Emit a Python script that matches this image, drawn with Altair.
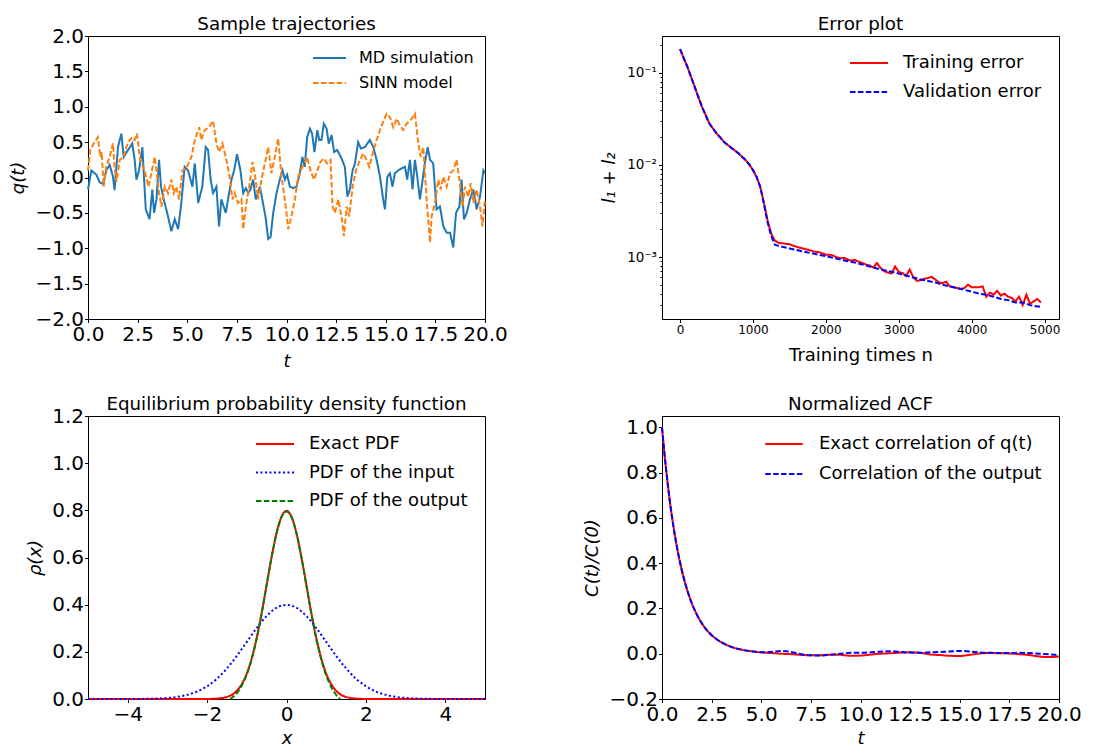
import altair as alt
import pandas as pd

FONT = "DejaVu Sans"

# ---------------- Sample trajectories ----------------
md_t = [0.0, 0.17, 0.42, 0.59, 0.76, 0.92, 1.09, 1.26, 1.34, 1.51, 1.68, 1.80, 2.02, 2.23, 2.35, 2.44,
        2.57, 2.74, 2.81, 2.91, 3.10, 3.24, 3.33, 3.45, 3.58, 3.68, 3.82, 4.03, 4.20, 4.37, 4.54, 4.70,
        4.87, 5.04, 5.26, 5.38, 5.55, 5.76, 5.93, 6.05, 6.18, 6.30, 6.47, 6.60, 6.72, 6.94, 7.11, 7.23,
        7.36, 7.51, 7.68, 7.82, 7.95, 8.07, 8.18, 8.32, 8.45, 8.66, 8.78, 8.94, 9.08, 9.20, 9.33, 9.50,
        9.66, 9.80, 9.92, 10.03, 10.17, 10.34, 10.50, 10.67, 10.80, 10.92, 11.04, 11.18, 11.29, 11.41,
        11.55, 11.65, 11.76, 11.88, 12.02, 12.13, 12.27, 12.40, 12.55, 12.77, 12.94, 13.07, 13.19, 13.33,
        13.45, 13.61, 13.75, 13.95, 14.20, 14.37, 14.54, 14.71, 14.87, 14.96, 15.08, 15.21, 15.34, 15.46,
        15.63, 15.80, 15.97, 16.08, 16.22, 16.35, 16.47, 16.59, 16.72, 16.86, 16.97, 17.11, 17.23, 17.39,
        17.56, 17.73, 17.90, 18.07, 18.24, 18.40, 18.54, 18.71, 18.82, 18.94, 19.08, 19.24, 19.41, 19.58,
        19.75, 19.92, 20.0]
md_q = [-0.17, 0.10, 0.04, -0.07, -0.09, 0.10, 0.18, 0.01, -0.18, 0.43, 0.62, 0.29, 0.39, 0.48, 0.25, -0.03,
        0.10, 0.43, 0.06, -0.45, -0.59, -0.17, -0.50, -0.31, 0.25, -0.13, -0.31, -0.55, -0.76, -0.59, -0.73, -0.36,
        0.15, 0.10, -0.13, 0.20, -0.36, -0.13, 0.43, 0.39, -0.03, -0.22, -0.13, -0.69, -0.31, -0.50, -0.22, -0.03,
        0.10, 0.33, 0.10, -0.22, -0.15, -0.22, -0.17, -0.03, -0.31, -0.13, -0.31, -0.55, -0.87, -0.84, -0.50, -0.22,
        -0.03, 0.10, -0.03, 0.04, -0.13, -0.15, -0.13, 0.06, 0.29, 0.15, 0.57, 0.69, 0.62, 0.36,
        0.67, 0.53, 0.53, 0.76, 0.69, 0.48, 0.60, 0.36, 0.39, 0.27, 0.15, -0.27, -0.17, 0.10,
        0.20, 0.50, 0.41, 0.43, 0.53, 0.43, 0.25, 0.01, -0.31, -0.45, 0.01, 0.06, -0.13, 0.06,
        0.10, 0.13, 0.15, -0.03, 0.25, -0.17, 0.25, 0.01, -0.31, -0.03, 0.20, 0.43, 0.25, 0.20,
        -0.45, -0.41, -0.69, -0.78, -0.78, -0.99, -0.50, -0.41, -0.03, -0.59, -0.50, -0.31, -0.17, -0.45,
        -0.27, 0.10, 0.06]

sinn_t = [0.0, 0.12, 0.29, 0.50, 0.62, 0.69, 0.79, 0.92, 1.09, 1.26, 1.34, 1.43, 1.60, 1.80, 1.93, 2.10,
          2.23, 2.35, 2.47, 2.60, 2.77, 2.89, 3.05, 3.19, 3.36, 3.45, 3.58, 3.70, 3.87, 4.03, 4.20, 4.32,
          4.45, 4.59, 4.76, 4.96, 5.21, 5.38, 5.60, 5.71, 5.88, 6.10, 6.30, 6.47, 6.60, 6.77, 6.94, 7.11,
          7.28, 7.39, 7.56, 7.73, 7.82, 7.95, 8.12, 8.29, 8.40, 8.57, 8.74, 8.91, 9.08, 9.24, 9.41, 9.58,
          9.75, 9.87, 10.0, 10.08, 10.25, 10.42, 10.59, 10.76, 10.92, 11.04, 11.21, 11.38, 11.55, 11.71,
          11.88, 12.05, 12.22, 12.32, 12.44, 12.61, 12.77, 12.89, 13.03, 13.16, 13.33, 13.50, 13.70, 13.87,
          14.03, 14.17, 14.34, 14.54, 14.71, 14.87, 15.04, 15.21, 15.38, 15.55, 15.71, 15.88, 16.05, 16.25,
          16.47, 16.64, 16.76, 16.89, 17.06, 17.23, 17.31, 17.48, 17.65, 17.76, 17.90, 18.07, 18.24, 18.40,
          18.57, 18.71, 18.87, 18.99, 19.16, 19.28, 19.41, 19.58, 19.75, 19.87, 20.0]
sinn_q = [0.10, 0.39, 0.48, 0.57, 0.29, 0.36, -0.13, 0.15, 0.29, 0.48, 0.15, -0.06, 0.25, 0.29, 0.43, 0.53,
          0.57, 0.53, 0.62, 0.29, 0.15, 0.06, -0.13, 0.06, 0.29, 0.10, -0.22, -0.41, -0.13, -0.22, -0.03, -0.22,
          -0.13, -0.31, 0.10, 0.13, 0.29, 0.53, 0.71, 0.53, 0.67, 0.71, 0.80, 0.48, 0.36, 0.48, 0.29, 0.06,
          -0.31, -0.22, -0.36, -0.31, -0.73, -0.41, -0.13, 0.22, 0.06, -0.31, -0.03, 0.20, 0.43, 0.06, 0.29, 0.55,
          0.01, -0.22, -0.50, -0.73, -0.55, -0.31, 0.01, 0.13, 0.20, 0.29, 0.10, -0.03, 0.10, 0.22,
          0.27, 0.20, 0.25, -0.41, -0.50, -0.31, -0.55, -0.83, -0.41, -0.55, -0.13, 0.10, 0.25, 0.34,
          0.25, 0.15, 0.34, 0.53, 0.67, 0.79, 0.90, 0.85, 0.71, 0.83, 0.74, 0.67, 0.76, 0.81,
          0.90, 0.48, 0.29, 0.43, -0.31, -0.92, -0.55, -0.36, -0.03, -0.17, 0.01, -0.13, 0.06, 0.10,
          0.25, -0.03, -0.41, -0.13, -0.27, -0.08, -0.36, -0.17, -0.41, -0.69, -0.31]

# ---------------- Error plot ----------------
train_n = [0, 50, 100, 150, 200, 250, 300, 350, 400, 450,
           500, 550, 600, 650, 700, 750, 800, 850, 900, 950,
           1000, 1050, 1100, 1150, 1200, 1250, 1300, 1350, 1400, 1450,
           1500, 1550, 1600, 1650, 1700, 1750, 1800, 1850, 1900, 1950,
           2000, 2050, 2100, 2150, 2200, 2250, 2300, 2350, 2400, 2450,
           2500, 2550, 2600, 2650, 2700, 2750, 2800, 2850, 2900, 2950,
           3000, 3050, 3100, 3150, 3200, 3250, 3300, 3350, 3400, 3450,
           3500, 3550, 3600, 3650, 3700, 3750, 3800, 3850, 3900, 3950,
           4000, 4050, 4100, 4150, 4200, 4250, 4300, 4350, 4400, 4450,
           4500, 4550, 4600, 4650, 4700, 4750, 4800, 4850, 4900, 4950]
train_err = [0.182, 0.145, 0.117, 0.091, 0.071, 0.055, 0.043, 0.035, 0.0284, 0.025,
             0.0221, 0.0199, 0.0179, 0.0166, 0.0154, 0.0144, 0.0134, 0.0123, 0.0113, 0.0101,
             0.0088, 0.0074, 0.0058, 0.0039, 0.0025, 0.0018, 0.00151, 0.00143, 0.00141, 0.00139,
             0.00138, 0.00133, 0.00129, 0.00126, 0.00123, 0.00120, 0.00117, 0.00114, 0.00113, 0.00110,
             0.00106, 0.00106, 0.00104, 0.00099, 0.00097, 0.00098, 0.00094, 0.00091, 0.00093, 0.00089,
             0.00086, 0.00083, 0.00081, 0.00077, 0.00086, 0.00076, 0.00070, 0.00068, 0.00066, 0.00079,
             0.00069, 0.00067, 0.00062, 0.00073, 0.00060, 0.00055, 0.00056, 0.00058, 0.00059, 0.00061,
             0.00057, 0.00053, 0.00052, 0.00054, 0.00048, 0.00047, 0.00046, 0.00045, 0.00046, 0.00050,
             0.00047, 0.00047, 0.00047, 0.00048, 0.00037, 0.00041, 0.00039, 0.00043, 0.00038, 0.00040,
             0.00037, 0.00036, 0.00033, 0.00037, 0.00030, 0.00039, 0.00031, 0.00033, 0.00035, 0.00032]
val_n = [0, 50, 100, 150, 200, 250, 300, 350, 400, 450,
         500, 550, 600, 650, 700, 750, 800, 850, 900, 950,
         1000, 1050, 1100, 1150, 1200, 1250, 1300, 1350, 1400, 1500,
         1600, 1700, 1800, 1900, 2000, 2100, 2200, 2300, 2400, 2500,
         2600, 2700, 2800, 2900, 3000, 3100, 3200, 3300, 3400, 3500,
         3600, 3700, 3800, 3900, 4000, 4100, 4200, 4300, 4400, 4500,
         4600, 4700, 4800, 4900, 4950]
val_err = [0.182, 0.145, 0.117, 0.091, 0.071, 0.055, 0.043, 0.035, 0.0284, 0.025,
           0.0221, 0.0199, 0.0179, 0.0166, 0.0154, 0.0144, 0.0134, 0.0123, 0.0113, 0.0101,
           0.0088, 0.0074, 0.0058, 0.0038, 0.0024, 0.0017, 0.00136, 0.00132, 0.00129, 0.00124,
           0.00119, 0.00114, 0.00110, 0.00106, 0.00102, 0.00098, 0.00094, 0.00090, 0.00087, 0.00083,
           0.00079, 0.00075, 0.00072, 0.00069, 0.00066, 0.00063, 0.00060, 0.00057, 0.00055, 0.00053,
           0.00050, 0.00048, 0.00046, 0.00044, 0.00042, 0.00040, 0.00039, 0.00037, 0.00035, 0.00034,
           0.00032, 0.00032, 0.00030, 0.00029, 0.00029]
log_ticks = [0.0003, 0.0004, 0.0005, 0.0006, 0.0007, 0.0008, 0.0009, 0.001,
             0.002, 0.003, 0.004, 0.005, 0.006, 0.007, 0.008, 0.009, 0.01,
             0.02, 0.03, 0.04, 0.05, 0.06, 0.07, 0.08, 0.09, 0.1, 0.2]

# ---------------- PDF ----------------
exact_x = [-5.0, -2.5, -2.0, -1.75, -1.5, -1.25, -1.125, -1.0, -0.875, -0.75, -0.625, -0.5, -0.375, -0.25,
           -0.125, 0.0, 0.125, 0.25, 0.375, 0.5, 0.625, 0.75, 0.875, 1.0, 1.125, 1.25, 1.5, 1.75, 2.0, 2.5, 5.0]
exact_p = [0.0, 0.0, 0.0003, 0.0017, 0.0089, 0.035, 0.0635, 0.108, 0.173, 0.259, 0.365, 0.484, 0.602, 0.704,
           0.773, 0.798, 0.773, 0.704, 0.602, 0.484, 0.365, 0.259, 0.173, 0.108, 0.0635, 0.035, 0.0089, 0.0017,
           0.0003, 0.0, 0.0]
input_x = [-5.0, -4.5, -4.0, -3.5, -3.0, -2.75, -2.5, -2.25, -2.0, -1.75, -1.5, -1.25, -1.0, -0.75, -0.5,
           -0.25, 0.0, 0.25, 0.5, 0.75, 1.0, 1.25, 1.5, 1.75, 2.0, 2.25, 2.5, 2.75, 3.0, 3.5, 4.0, 4.5, 5.0]
input_p = [0.0, 0.00002, 0.0001, 0.0009, 0.0044, 0.0091, 0.0175, 0.032, 0.054, 0.086, 0.130, 0.183, 0.242,
           0.301, 0.352, 0.387, 0.399, 0.387, 0.352, 0.301, 0.242, 0.183, 0.130, 0.086, 0.054, 0.032, 0.0175,
           0.0091, 0.0044, 0.0009, 0.0001, 0.00002, 0.0]
output_x = [-1.42, -1.25, -1.125, -1.0, -0.875, -0.75, -0.625, -0.5, -0.375, -0.25, -0.125, 0.0, 0.125,
            0.25, 0.375, 0.5, 0.625, 0.75, 0.875, 1.0, 1.125, 1.25, 1.35]
output_p = [0.0, 0.025, 0.058, 0.104, 0.170, 0.257, 0.364, 0.484, 0.602, 0.703, 0.772, 0.795, 0.772,
            0.703, 0.601, 0.483, 0.363, 0.256, 0.168, 0.100, 0.052, 0.018, 0.0]

# ---------------- ACF ----------------
acf_t = [0.0, 0.1, 0.2, 0.3, 0.4, 0.5, 0.6, 0.7, 0.8, 0.9, 1.0, 1.25, 1.5, 1.75, 2.0, 2.25, 2.5, 2.75,
         3.0, 3.5, 4.0, 4.5, 5.0, 5.5, 6.0, 6.5, 7.0, 7.5, 8.0, 8.5, 9.0, 9.5, 10.0, 10.5, 11.0, 11.5,
         12.0, 12.5, 13.0, 13.5, 14.0, 14.5, 15.0, 15.5, 16.0, 16.5, 17.0, 17.5, 18.0, 18.5, 19.0, 19.5, 20.0]
acf_exact = [1.0, 0.905, 0.819, 0.741, 0.670, 0.607, 0.549, 0.497, 0.449, 0.407, 0.368, 0.287, 0.223,
             0.174, 0.135, 0.105, 0.082, 0.064, 0.050, 0.030, 0.018, 0.011, 0.006, 0.003, 0.0, -0.002,
             -0.005, -0.007, -0.007, -0.004, -0.005, -0.009, -0.008, -0.004, 0.0, 0.002, 0.005, 0.006,
             0.004, -0.003, -0.006, -0.009, -0.010, -0.005, 0.001, 0.003, 0.002, 0.001, -0.002, -0.006,
             -0.012, -0.015, -0.012]
acf_output = [1.0, 0.905, 0.819, 0.741, 0.670, 0.607, 0.549, 0.497, 0.449, 0.407, 0.368, 0.287, 0.223,
              0.174, 0.135, 0.105, 0.082, 0.064, 0.050, 0.030, 0.018, 0.011, 0.006, 0.008, 0.012, 0.008,
              -0.002, -0.007, -0.008, -0.004, 0.0, 0.004, 0.004, 0.006, 0.009, 0.011, 0.008, 0.005,
              0.004, 0.006, 0.008, 0.010, 0.012, 0.010, 0.006, 0.004, 0.003, 0.003, 0.004, 0.003,
              0.0, -0.003, -0.006]

W, H = 397, 283
SOLID = [1, 0]
DASH = [5.5, 2.4]
DOT = [2, 2.5]
TICK_FS = 20


def leg(fs, L, h, rowpad, off, lx, ly):
    return alt.Legend(title=None, orient="none", legendX=lx, legendY=ly, symbolType="stroke",
                      symbolSize=L * L, symbolStrokeWidth=2, clipHeight=h, rowPadding=rowpad,
                      labelOffset=off, labelFontSize=fs, labelFont=FONT, labelColor="black",
                      padding=0, labelLimit=500)


def xaxis(title, values, fmt, fs=TICK_FS, italic=True, tpad=8):
    kw = dict(title=title, values=values, format=fmt, labelFontSize=fs, titleFontSize=18,
              labelFlush=False, labelOverlap=False, tickSize=3.5, labelPadding=2, titlePadding=tpad)
    if italic:
        kw["titleFontStyle"] = "italic"
    return alt.Axis(**kw)


def yaxis(title, values, fmt, fs=TICK_FS):
    return alt.Axis(title=title, values=values, format=fmt, labelFontSize=fs, titleFontSize=18,
                    titleFontStyle="italic", labelOverlap=False, tickSize=3.5, labelPadding=1,
                    titlePadding=7)


def ttl(text, off):
    return alt.TitleParams(text=text, offset=off, fontSize=18.3)


t_ticks = [0, 2.5, 5, 7.5, 10, 12.5, 15, 17.5, 20]

# Panel 1
d1 = pd.concat([pd.DataFrame({"t": md_t, "q": md_q, "s1": "MD simulation"}),
                pd.DataFrame({"t": sinn_t, "q": sinn_q, "s1": "SINN model"})])
dom1 = ["MD simulation", "SINN model"]
l1 = leg(16, 33, 16, 9, 12, 224, 14)
p1 = alt.Chart(d1).mark_line(strokeWidth=2).encode(
    x=alt.X("t:Q", scale=alt.Scale(domain=[0, 20], nice=False, zero=False),
            axis=xaxis("t", t_ticks, ".1f")),
    y=alt.Y("q:Q", scale=alt.Scale(domain=[-2, 2], nice=False),
            axis=yaxis("q(t)", [-2, -1.5, -1, -0.5, 0, 0.5, 1, 1.5, 2], ".1f")),
    color=alt.Color("s1:N", scale=alt.Scale(domain=dom1, range=["#1f77b4", "#ff7f0e"]), legend=l1),
    strokeDash=alt.StrokeDash("s1:N", scale=alt.Scale(domain=dom1, range=[SOLID, DASH]), legend=l1),
).properties(width=W, height=H, title=ttl("Sample trajectories", -8))

# Panel 2
d2 = pd.concat([pd.DataFrame({"n": train_n, "e": train_err, "s2": "Training error"}),
                pd.DataFrame({"n": val_n, "e": val_err, "s2": "Validation error"})])
dom2 = ["Training error", "Validation error"]
l2 = leg(18, 38, 18, 11, 14, 187, 18)
lab_expr = ("datum.value == 0.1 ? '10\u207b\u00b9' : datum.value == 0.01 ? '10\u207b\u00b2' : "
            "datum.value == 0.001 ? '10\u207b\u00b3' : ''")
p2 = alt.Chart(d2).mark_line(strokeWidth=2).encode(
    x=alt.X("n:Q", scale=alt.Scale(domain=[-247.5, 5197.5], nice=False, zero=False),
            axis=xaxis("Training times n", [0, 1000, 2000, 3000, 4000, 5000], "d", fs=12,
                       italic=False, tpad=11)),
    y=alt.Y("e:Q", scale=alt.Scale(type="log", domain=[0.000212, 0.252], nice=False),
            axis=alt.Axis(title="l\u2081 + l\u2082", values=log_ticks, labelExpr=lab_expr, labelFontSize=13.5,
                          titleFontSize=18, titleFontStyle="italic", labelOverlap=False,
                          tickSize={"condition": {"test": "indexof([0.001, 0.01, 0.1], datum.value) >= 0",
                                                  "value": 3.5}, "value": 2},
                          labelPadding=2, titlePadding=8)),
    color=alt.Color("s2:N", scale=alt.Scale(domain=dom2, range=["#ff0000", "#0000ff"]), legend=l2),
    strokeDash=alt.StrokeDash("s2:N", scale=alt.Scale(domain=dom2, range=[SOLID, DASH]), legend=l2),
).properties(width=W, height=H, title=ttl("Error plot", 2))

# Panel 3
d3 = pd.concat([pd.DataFrame({"x": exact_x, "p": exact_p, "s3": "Exact PDF"}),
                pd.DataFrame({"x": input_x, "p": input_p, "s3": "PDF of the input"}),
                pd.DataFrame({"x": output_x, "p": output_p, "s3": "PDF of the output"})])
dom3 = ["Exact PDF", "PDF of the input", "PDF of the output"]
l3 = leg(18, 38, 18, 10.5, 14, 167, 19)
p3 = alt.Chart(d3).mark_line(strokeWidth=2, interpolate="monotone").encode(
    x=alt.X("x:Q", scale=alt.Scale(domain=[-5, 5], nice=False, zero=False),
            axis=xaxis("x", [-4, -2, 0, 2, 4], "d", tpad=5)),
    y=alt.Y("p:Q", scale=alt.Scale(domain=[0, 1.2], nice=False),
            axis=yaxis("\u03c1(x)", [0, 0.2, 0.4, 0.6, 0.8, 1.0, 1.2], ".1f")),
    color=alt.Color("s3:N", scale=alt.Scale(domain=dom3, range=["#ff0000", "#0000ff", "#008000"]), legend=l3),
    strokeDash=alt.StrokeDash("s3:N", scale=alt.Scale(domain=dom3, range=[SOLID, DOT, DASH]), legend=l3),
).properties(width=W, height=H, title=ttl("Equilibrium probability density function", -8))

# Panel 4
d4 = pd.concat([pd.DataFrame({"t": acf_t, "c": acf_exact, "s4": "Exact correlation of q(t)"}),
                pd.DataFrame({"t": acf_t, "c": acf_output, "s4": "Correlation of the output"})])
dom4 = ["Exact correlation of q(t)", "Correlation of the output"]
l4 = leg(18, 37.5, 18, 12, 15, 102, 19)
p4 = alt.Chart(d4).mark_line(strokeWidth=2, interpolate="monotone").encode(
    x=alt.X("t:Q", scale=alt.Scale(domain=[0, 20], nice=False, zero=False),
            axis=xaxis("t", t_ticks, ".1f", tpad=5)),
    y=alt.Y("c:Q", scale=alt.Scale(domain=[-0.2, 1.05], nice=False),
            axis=yaxis("C(t)/C(0)", [-0.2, 0, 0.2, 0.4, 0.6, 0.8, 1.0], ".1f")),
    color=alt.Color("s4:N", scale=alt.Scale(domain=dom4, range=["#ff0000", "#0000ff"]), legend=l4),
    strokeDash=alt.StrokeDash("s4:N", scale=alt.Scale(domain=dom4, range=[SOLID, DASH]), legend=l4),
).properties(width=W, height=H, title=ttl("Normalized ACF", 2))

chart = alt.concat(
    p1, p2, p3, p4, columns=2, spacing={"row": 97, "column": 177}, bounds="flush"
).resolve_scale(
    color="independent", strokeDash="independent"
).properties(
    padding={"left": 1, "top": 6, "right": 5, "bottom": 0}
).configure_view(
    stroke="black", strokeWidth=1
).configure_axis(
    grid=False, domainColor="black", tickColor="black", labelColor="black", titleColor="black",
    labelFont=FONT, titleFont=FONT, titleFontWeight="normal"
).configure_title(
    font=FONT, fontSize=18.3, fontWeight="normal", color="black"
)

chart.save("out.html", embed_options={"renderer": "svg", "actions": False})
